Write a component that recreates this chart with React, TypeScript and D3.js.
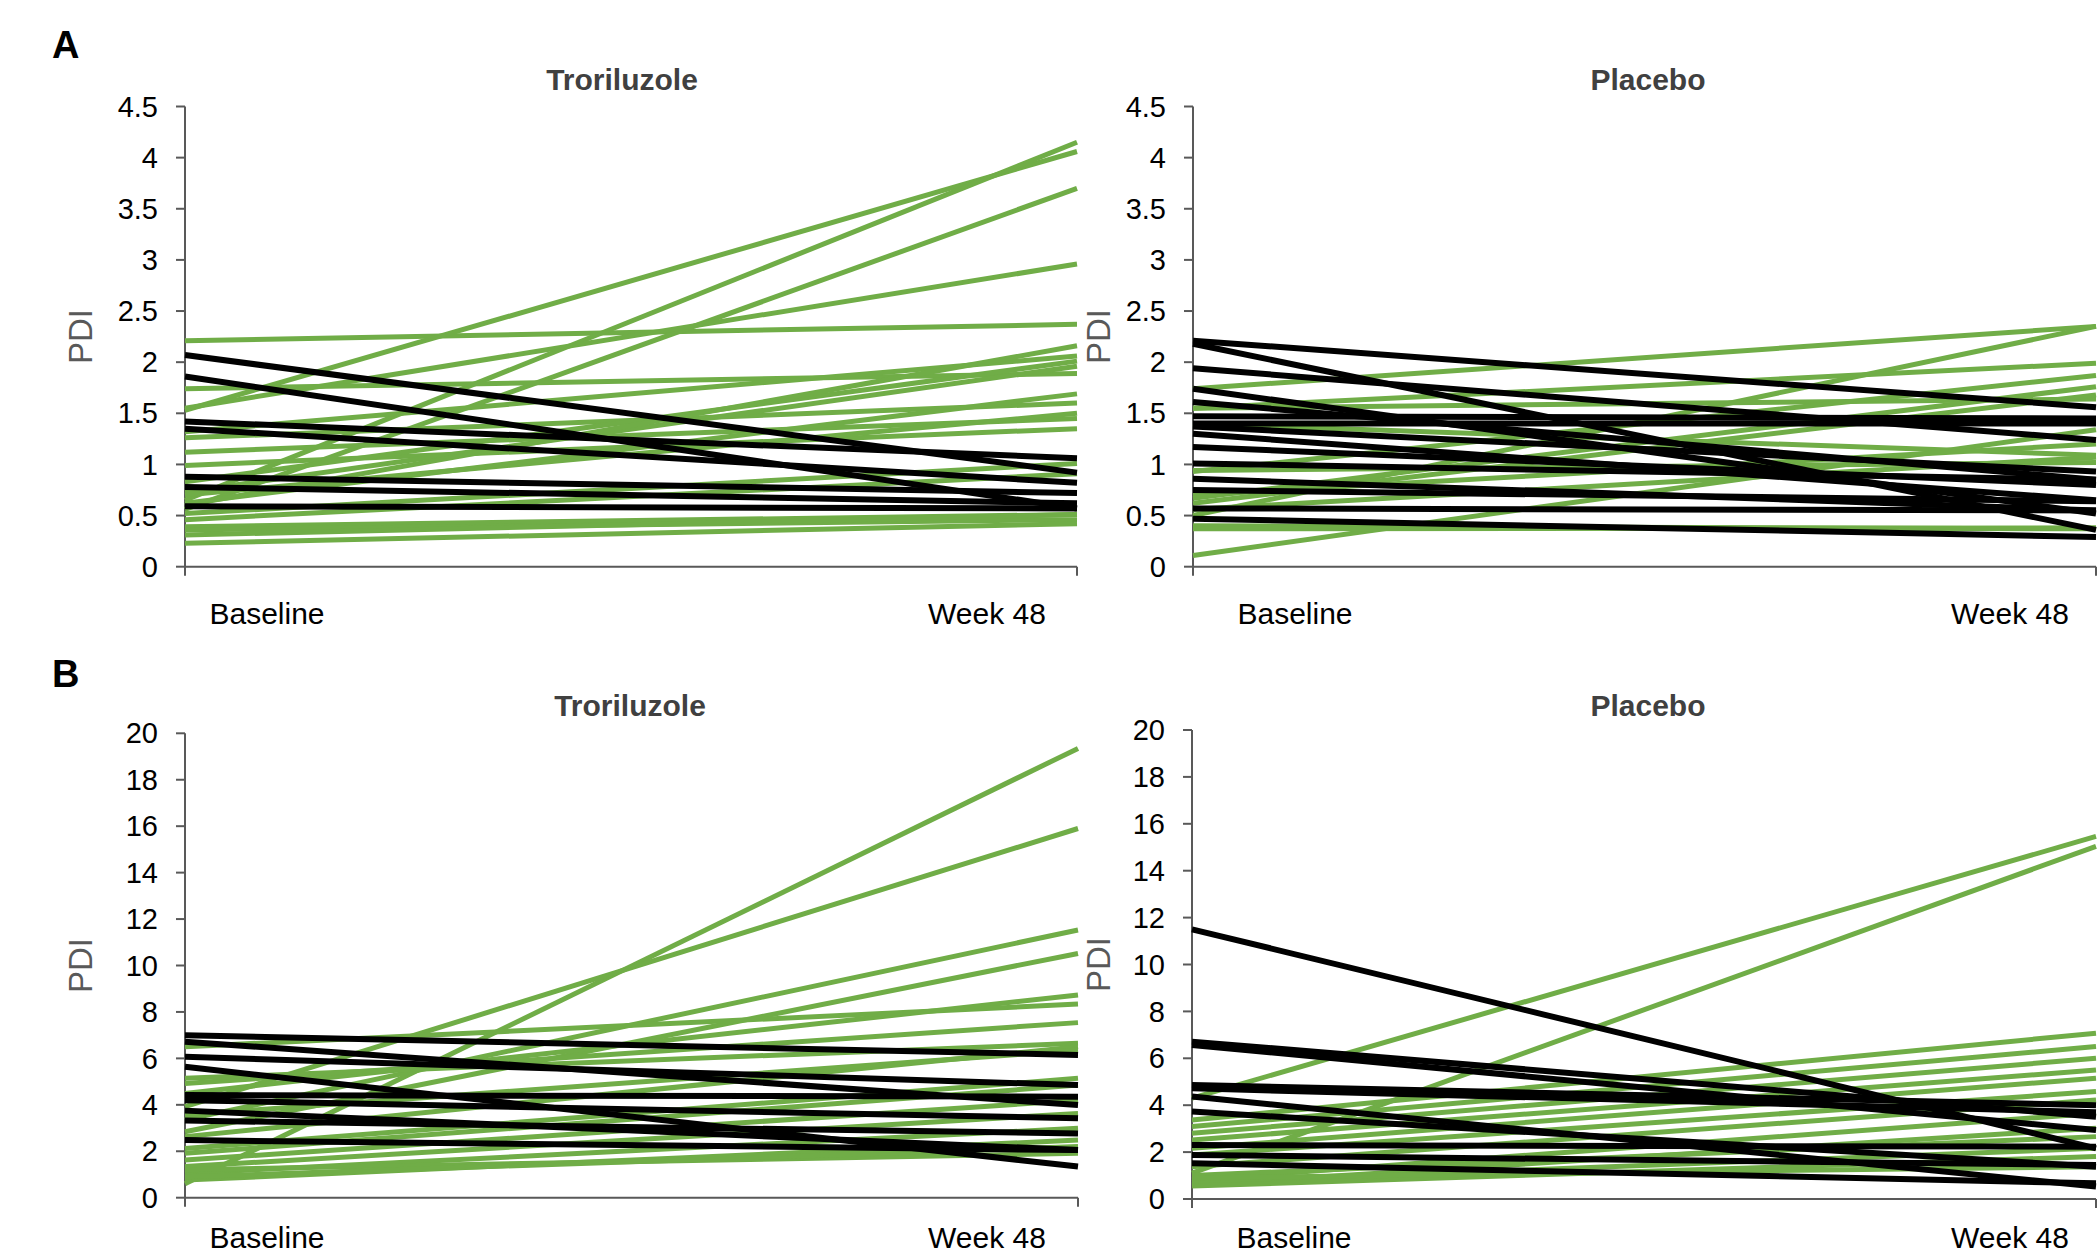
import React from 'react';
import * as d3 from 'd3';

const W = 2097, H = 1255;
const FONT = 'Liberation Sans, Arial, sans-serif';
const GREEN = '#70AD47';

const periods = ['Baseline', 'Week 48'];
const ticksA = [0, 0.5, 1, 1.5, 2, 2.5, 3, 3.5, 4, 4.5];
const ticksB = [0, 2, 4, 6, 8, 10, 12, 14, 16, 18, 20];

// A - Troriluzole
const aTroGreenBase = [2.21, 1.53, 0.65, 0.56, 1.55, 1.74, 1.32, 1.26, 1.12, 0.99, 0.83, 0.73, 0.70, 0.62, 0.60, 0.52, 0.46, 0.39, 0.36, 0.31, 0.23];
const aTroGreenWk48 = [2.37, 4.06, 4.15, 3.70, 2.96, 1.89, 2.06, 1.60, 1.45, 1.35, 2.01, 1.96, 1.50, 1.69, 2.16, 1.01, 0.91, 0.51, 0.46, 0.51, 0.42];
const aTroBlackBase = [2.07, 1.86, 1.42, 1.35, 0.88, 0.78, 0.59];
const aTroBlackWk48 = [0.92, 0.57, 1.06, 0.82, 0.72, 0.62, 0.57];

// A - Placebo
const aPboGreenBase = [1.74, 0.50, 1.55, 1.55, 0.93, 0.11, 1.40, 0.67, 0.62, 0.56, 0.70, 0.40, 0.37, 0.94];
const aPboGreenWk48 = [2.35, 2.35, 1.99, 1.64, 1.87, 1.34, 1.09, 1.76, 1.68, 1.07, 1.20, 0.37, 0.38, 1.02];
const aPboBlackBase = [2.21, 2.18, 1.94, 1.74, 1.61, 1.47, 1.40, 1.37, 1.30, 1.17, 1.01, 0.86, 0.75, 0.57, 0.47];
const aPboBlackWk48 = [1.56, 0.36, 1.24, 0.52, 0.85, 1.45, 1.40, 0.93, 0.65, 0.80, 0.85, 0.55, 0.64, 0.55, 0.29];

// B - Troriluzole
const bTroGreenBase = [0.6, 3.92, 3.35, 2.84, 4.49, 6.5, 4.92, 5.14, 2.63, 3.56, 2.12, 1.91, 1.62, 1.34, 1.05, 0.76, 1.2, 0.9];
const bTroGreenWk48 = [19.35, 15.9, 11.53, 10.52, 8.73, 8.34, 7.54, 6.65, 6.5, 6.36, 5.14, 4.85, 4.2, 3.63, 2.99, 2.48, 1.91, 2.2];
const bTroBlackBase = [7.0, 6.72, 6.07, 5.64, 4.42, 4.2, 3.75, 3.32, 2.48];
const bTroBlackWk48 = [6.15, 3.99, 4.85, 1.34, 4.35, 3.42, 2.05, 2.77, 2.05];

// B - Placebo
const bPboGreenBase = [4.3, 1.1, 3.37, 3.09, 2.8, 2.52, 2.16, 1.88, 1.38, 0.81, 0.6, 1.0, 0.7, 0.55, 0.9];
const bPboGreenWk48 = [15.46, 15.04, 7.07, 6.5, 6.0, 5.5, 5.15, 4.58, 4.22, 3.66, 3.02, 2.66, 2.16, 1.81, 1.38];
const bPboBlackBase = [11.5, 6.71, 6.57, 4.86, 4.72, 4.37, 3.73, 2.30, 1.88, 1.52];
const bPboBlackWk48 = [2.16, 3.51, 2.94, 4.0, 3.7, 0.53, 1.38, 2.23, 1.45, 0.67];

type Box = { x0: number; x1: number; y0: number; y1: number };

function pairs(base: number[], end: number[]) {
  return base.map((b, i) => [[periods[0], b], [periods[1], end[i]]] as [string, number][]);
}

function Panel(props: {
  box: Box; title: string; titleX: number; titleY: number; pdiX: number; ticks: number[];
  greenBase: number[]; greenEnd: number[]; blackBase: number[]; blackEnd: number[];
  insetL: number; insetR: number; labelY: number;
}) {
  const { box, ticks } = props;
  const x = d3.scalePoint<string>().domain(periods).range([box.x0, box.x1]);
  const y = d3.scaleLinear().domain([0, ticks[ticks.length - 1]]).range([box.y1, box.y0]);
  const line = d3.line<[string, number]>().x(d => x(d[0]) as number).y(d => y(d[1]));
  const green = pairs(props.greenBase, props.greenEnd);
  const black = pairs(props.blackBase, props.blackEnd);
  const midY = (box.y0 + box.y1) / 2;
  return (
    <g>
      <text x={props.titleX} y={props.titleY} textAnchor="middle" fontFamily={FONT} fontWeight="bold"
        fontSize={30} fill="#404040">{props.title}</text>
      <text transform={`translate(${props.pdiX},${midY}) rotate(-90)`} textAnchor="middle"
        fontFamily={FONT} fontSize={33} fill="#595959">PDI</text>
      {ticks.map(t => (
        <g key={t}>
          <line x1={box.x0 - 9} x2={box.x0} y1={y(t)} y2={y(t)} stroke="#595959" strokeWidth={2} />
          <text x={box.x0 - 27} y={y(t)} dy="0.35em" textAnchor="end" fontFamily={FONT}
            fontSize={29} fill="#000">{String(t)}</text>
        </g>
      ))}
      <line x1={box.x0} x2={box.x0} y1={box.y0} y2={box.y1} stroke="#595959" strokeWidth={2} />
      <line x1={box.x0} x2={box.x1} y1={box.y1} y2={box.y1} stroke="#595959" strokeWidth={2} />
      {periods.map(p => (
        <line key={p} x1={x(p)} x2={x(p)} y1={box.y1} y2={box.y1 + 9} stroke="#595959" strokeWidth={2} />
      ))}
      <text x={box.x0 + props.insetL} y={props.labelY} textAnchor="middle" fontFamily={FONT}
        fontSize={30} fill="#000">{periods[0]}</text>
      <text x={box.x1 - props.insetR} y={props.labelY} textAnchor="middle" fontFamily={FONT}
        fontSize={30} fill="#000">{periods[1]}</text>
      {green.map((d, i) => (
        <path key={'g' + i} d={line(d) || ''} fill="none" stroke={GREEN} strokeWidth={5} />
      ))}
      {black.map((d, i) => (
        <path key={'b' + i} d={line(d) || ''} fill="none" stroke="#000" strokeWidth={6} />
      ))}
    </g>
  );
}

export default function App() {
  return (
    <svg width={W} height={H} style={{ position: 'absolute', left: 0, top: 0, background: '#fff' }}>
      <rect width={W} height={H} fill="#fff" />
      <text x={52} y={58} fontFamily={FONT} fontWeight="bold" fontSize={38} fill="#000">A</text>
      <text x={52} y={687} fontFamily={FONT} fontWeight="bold" fontSize={38} fill="#000">B</text>
      <Panel box={{ x0: 185, x1: 1077, y0: 106.5, y1: 566.7 }} title="Troriluzole" titleX={622} titleY={90}
        pdiX={92} ticks={ticksA} greenBase={aTroGreenBase} greenEnd={aTroGreenWk48}
        blackBase={aTroBlackBase} blackEnd={aTroBlackWk48} insetL={82} insetR={90} labelY={624} />
      <Panel box={{ x0: 1193, x1: 2096, y0: 106.5, y1: 566.7 }} title="Placebo" titleX={1648} titleY={90}
        pdiX={1110} ticks={ticksA} greenBase={aPboGreenBase} greenEnd={aPboGreenWk48}
        blackBase={aPboBlackBase} blackEnd={aPboBlackWk48} insetL={102} insetR={86} labelY={624} />
      <Panel box={{ x0: 185, x1: 1078, y0: 733.3, y1: 1197.7 }} title="Troriluzole" titleX={630} titleY={716}
        pdiX={92} ticks={ticksB} greenBase={bTroGreenBase} greenEnd={bTroGreenWk48}
        blackBase={bTroBlackBase} blackEnd={bTroBlackWk48} insetL={82} insetR={91} labelY={1248} />
      <Panel box={{ x0: 1192, x1: 2096, y0: 730, y1: 1199 }} title="Placebo" titleX={1648} titleY={716}
        pdiX={1110} ticks={ticksB} greenBase={bPboGreenBase} greenEnd={bPboGreenWk48}
        blackBase={bPboBlackBase} blackEnd={bPboBlackWk48} insetL={102} insetR={86} labelY={1248} />
    </svg>
  );
}
